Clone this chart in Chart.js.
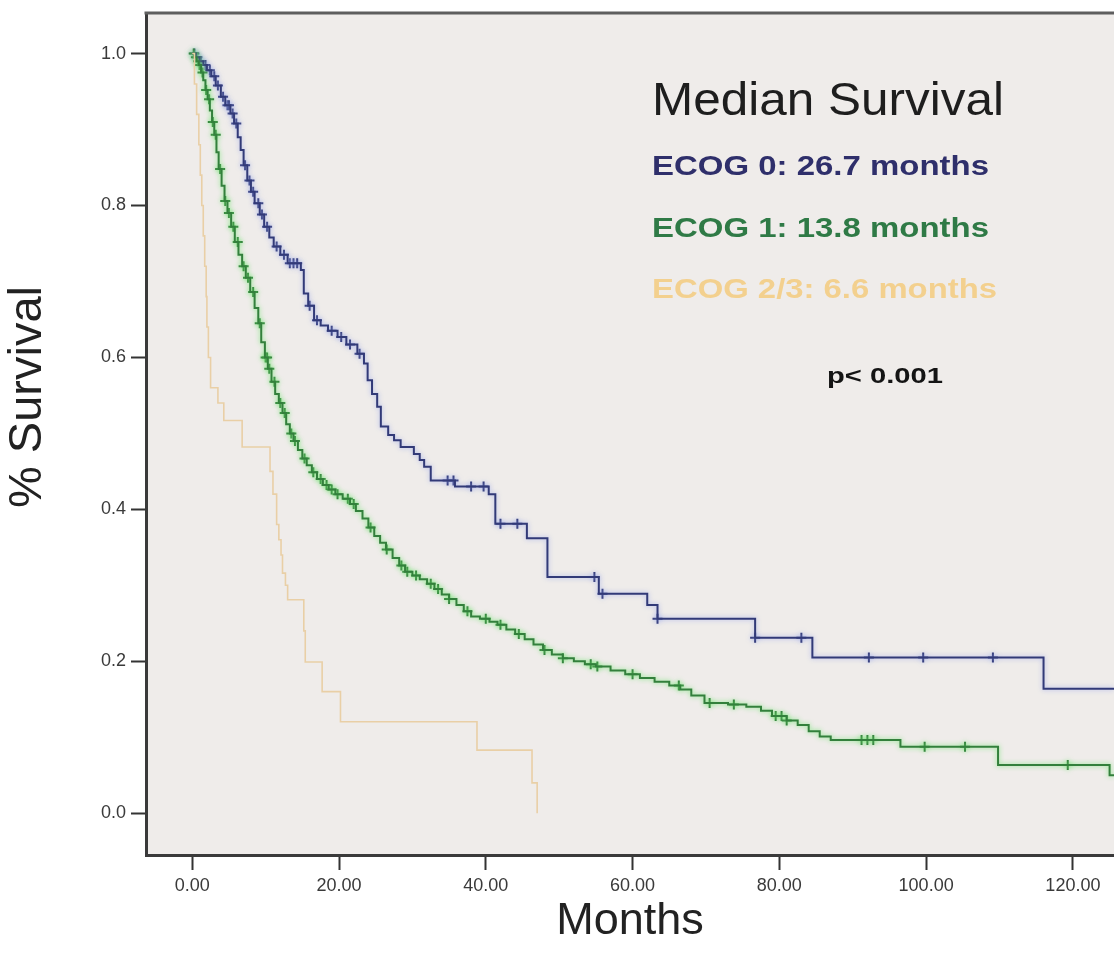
<!DOCTYPE html>
<html>
<head>
<meta charset="utf-8">
<script src="https://cdn.jsdelivr.net/npm/chart.js@4.4.1/dist/chart.umd.min.js"></script>
<style>
  html, body { margin: 0; padding: 0; background: #ffffff; overflow: hidden; }
  #wrap { width: 1114px; height: 957px; position: relative; }
</style>
</head>
<body>
<div id="wrap"><canvas id="c" width="1114" height="957"></canvas></div>
<script>
// ---- Data ----
// Kaplan-Meier step points: [months, survival after the event]
const ecog0Times = [0,0.5,1.0,1.5,2.0,2.6,3.2,3.9,4.5,5.2,5.7,6.2,6.6,7.0,7.5,8.0,8.5,9.2,9.8,10.5,11.1,12.0,13.0,14.8,15.2,15.8,16.6,17.5,18.5,19.8,21.0,22.5,23.4,23.9,24.5,25.2,25.7,26.7,27.5,28.4,30.2,31.0,31.6,32.5,35.8,40.4,41.3,45.6,48.4,55.4,62.0,63.4,76.7,84.5,116.0,125.6];
const ecog0Surv  = [1.0,0.995,0.99,0.985,0.978,0.97,0.958,0.943,0.932,0.921,0.908,0.89,0.873,0.853,0.833,0.818,0.803,0.788,0.772,0.758,0.746,0.735,0.724,0.715,0.684,0.668,0.649,0.642,0.635,0.627,0.617,0.605,0.592,0.57,0.552,0.535,0.509,0.498,0.491,0.482,0.473,0.465,0.456,0.438,0.430,0.42,0.381,0.362,0.311,0.289,0.274,0.256,0.231,0.205,0.164,0.164];

const ecog1Times = [0,0.3,0.6,0.9,1.2,1.5,1.8,2.1,2.4,2.7,3.0,3.3,3.6,4.0,4.4,4.8,5.3,5.8,6.3,6.8,7.3,7.9,8.5,9.0,9.4,9.9,10.3,10.8,11.3,11.8,12.3,12.8,13.3,13.8,14.4,15.0,15.6,16.3,17.0,17.8,18.6,19.5,20.5,21.5,22.3,23.2,24.0,24.8,25.6,26.4,27.3,28.2,29.0,30.0,31.0,32.0,33.0,34.0,35.0,36.0,37.0,38.0,39.2,40.5,41.6,42.8,44.0,45.3,46.5,47.8,49.0,50.5,52.0,53.5,55.0,57.0,59.0,61.0,63.0,65.0,66.5,68.0,69.8,73.0,75.5,77.5,79.0,81.0,82.5,84.0,85.5,87.0,96.5,109.8,125.0,125.6];
const ecog1Surv  = [1.0,0.995,0.99,0.985,0.975,0.965,0.952,0.94,0.925,0.91,0.893,0.87,0.848,0.826,0.806,0.79,0.772,0.752,0.735,0.72,0.705,0.686,0.665,0.645,0.62,0.60,0.585,0.568,0.552,0.54,0.527,0.512,0.5,0.49,0.478,0.467,0.458,0.449,0.44,0.432,0.426,0.42,0.414,0.407,0.398,0.388,0.376,0.365,0.356,0.347,0.336,0.326,0.318,0.313,0.308,0.302,0.295,0.288,0.282,0.274,0.266,0.259,0.256,0.252,0.248,0.242,0.236,0.229,0.222,0.215,0.209,0.204,0.2,0.196,0.193,0.188,0.183,0.178,0.173,0.168,0.163,0.155,0.145,0.143,0.14,0.135,0.128,0.122,0.116,0.108,0.101,0.0965,0.0876,0.0636,0.05,0.05];

const ecog23Times = [0,0.3,0.6,0.9,1.1,1.3,1.5,1.7,1.9,2.0,2.2,2.5,3.5,4.3,6.8,10.6,11.0,11.5,11.8,12.1,12.3,12.7,13.0,15.2,15.4,17.7,20.2,38.8,46.3,47.0];
const ecog23Surv  = [1.0,0.96,0.92,0.88,0.84,0.80,0.76,0.72,0.68,0.64,0.60,0.56,0.54,0.517,0.482,0.45,0.42,0.38,0.36,0.34,0.316,0.30,0.281,0.24,0.199,0.16,0.1205,0.083,0.04,0.0];

// Censoring times (months)
const ecog0Censored = [0.3,0.7,1.2,1.8,2.4,3.0,3.5,4.2,4.8,5.0,5.5,6.0,7.2,7.8,8.3,9.0,9.5,10.2,11.5,12.5,13.3,13.8,14.3,16.0,17.0,19.0,20.3,21.5,22.8,34.8,35.6,38.0,39.7,42.0,44.3,54.8,55.9,63.4,76.7,83.0,92.2,99.6,109.1];
const ecog1Censored = [0.2,0.5,0.8,1.0,1.4,1.9,2.3,2.8,3.2,3.8,4.5,5.0,5.6,6.2,7.0,7.6,8.3,9.2,10.0,10.2,10.5,11.2,12.0,12.6,13.5,14.0,15.3,16.5,17.5,18.3,19.0,19.8,21.2,22.0,24.3,26.5,28.5,29.3,30.5,32.5,33.5,35.0,37.5,40.0,42.0,44.5,48.0,50.5,54.3,55.2,60.0,66.3,70.5,73.8,79.5,80.3,81.0,91.2,92.0,92.8,99.8,105.3,119.3];

const groupLabels = ["ECOG 0", "ECOG 1", "ECOG 2/3"];
const medianTexts = ["ECOG 0: 26.7 months", "ECOG 1: 13.8 months", "ECOG 2/3: 6.6 months"];
const yTickValues = [0.0, 0.2, 0.4, 0.6, 0.8, 1.0];
const xTickValues = [0, 20, 40, 60, 80, 100, 120];

// ---- Helpers ----
function toPoints(t, s) { return t.map((x, i) => ({ x: x, y: s[i] })); }
function kmAt(t, s, time) {
  let v = s[0];
  for (let i = 0; i < t.length; i++) { if (t[i] <= time) v = s[i]; else break; }
  return v;
}
function censorPoints(c, t, s) { return c.map(x => ({ x: x, y: kmAt(t, s, x) })); }

const C_BLUE = '#323a78';
const C_GREEN = '#33803c';
const C_TAN = '#e9cfa6';
const FONT = '"Liberation Sans", Arial, sans-serif';

// ---- Plugins ----
const frame = {
  id: 'frame',
  beforeDraw(chart) {
    const { ctx, chartArea: a } = chart;
    ctx.save();
    ctx.fillStyle = '#efecea';
    ctx.fillRect(a.left, a.top, a.right - a.left, a.bottom - a.top);
    ctx.restore();
  },
  afterDraw(chart) {
    const { ctx, chartArea: a } = chart;
    ctx.save();
    ctx.strokeStyle = '#5e5e5e';
    ctx.lineWidth = 3;
    ctx.beginPath();
    ctx.moveTo(a.left - 1.5, a.top);
    ctx.lineTo(a.right, a.top);
    ctx.stroke();
    ctx.restore();
  }
};

const halo = {
  id: 'halo',
  beforeDatasetDraw(chart, args) {
    const ds = chart.data.datasets[args.index];
    chart.ctx.save();
    if (ds.haloColor) {
      chart.ctx.shadowColor = ds.haloColor;
      chart.ctx.shadowBlur = 5;
    }
  },
  afterDatasetDraw(chart) { chart.ctx.restore(); }
};

function drawFit(ctx, text, x, y, font, color, width) {
  ctx.save();
  ctx.font = font;
  ctx.fillStyle = color;
  ctx.textBaseline = 'alphabetic';
  ctx.textAlign = 'left';
  const w = ctx.measureText(text).width;
  ctx.translate(x, y);
  ctx.scale(width / w, 1);
  ctx.fillText(text, 0, 0);
  ctx.restore();
}

const texts = {
  id: 'texts',
  afterDatasetsDraw(chart) {
    const ctx = chart.ctx;
    drawFit(ctx, 'Median Survival', 652, 115, '46px ' + FONT, '#1e1e1e', 352);
    drawFit(ctx, medianTexts[0], 652, 175, 'bold 28px ' + FONT, '#2f2f6b', 337);
    drawFit(ctx, medianTexts[1], 652, 237, 'bold 28px ' + FONT, '#2f7a46', 337);
    drawFit(ctx, medianTexts[2], 652, 298, 'bold 28px ' + FONT, '#f3d08e', 345);
    drawFit(ctx, 'p< 0.001', 827, 383, 'bold 22px ' + FONT, '#141414', 116);
    // y axis title
    ctx.save();
    ctx.translate(28, 397);
    ctx.rotate(-Math.PI / 2);
    ctx.font = '47px ' + FONT;
    ctx.fillStyle = '#222222';
    ctx.textAlign = 'center';
    ctx.textBaseline = 'middle';
    ctx.fillText('% Survival', 0, 0);
    ctx.restore();
  }
};

// ---- Chart ----
new Chart(document.getElementById('c'), {
  type: 'line',
  data: {
    datasets: [
      { label: groupLabels[2], data: toPoints(ecog23Times, ecog23Surv), stepped: true,
        borderColor: C_TAN, borderWidth: 1.6, pointRadius: 0, fill: false },
      { label: groupLabels[1], data: toPoints(ecog1Times, ecog1Surv), stepped: true,
        borderColor: C_GREEN, borderWidth: 2, pointRadius: 0, fill: false, haloColor: 'rgba(110,230,110,0.9)' },
      { label: groupLabels[0], data: toPoints(ecog0Times, ecog0Surv), stepped: true,
        borderColor: C_BLUE, borderWidth: 2, pointRadius: 0, fill: false, haloColor: 'rgba(150,165,235,0.8)' },
      { label: groupLabels[1] + ' censored', data: censorPoints(ecog1Censored, ecog1Times, ecog1Surv), showLine: false,
        pointStyle: 'cross', pointRadius: 5, pointBorderWidth: 2, borderColor: C_GREEN, backgroundColor: C_GREEN, haloColor: 'rgba(110,230,110,0.8)' },
      { label: groupLabels[0] + ' censored', data: censorPoints(ecog0Censored, ecog0Times, ecog0Surv), showLine: false,
        pointStyle: 'cross', pointRadius: 5, pointBorderWidth: 2, borderColor: C_BLUE, backgroundColor: C_BLUE, haloColor: 'rgba(150,165,235,0.7)' }
    ]
  },
  options: {
    responsive: false,
    animation: false,
    events: [],
    layout: { autoPadding: false, padding: { top: 13, right: 0, bottom: 0, left: 0 } },
    plugins: { legend: { display: false }, tooltip: { enabled: false } },
    scales: {
      x: {
        type: 'linear', min: -6.3, max: 125.6,
        afterFit(s) { s.height = 102; s.paddingLeft = 0; s.paddingRight = 0; },
        afterBuildTicks(s) { s.ticks = xTickValues.map(v => ({ value: v })); },
        ticks: { callback: v => Number(v).toFixed(2), font: { family: FONT, size: 18 }, color: '#3a3a3a', padding: 5, maxRotation: 0 },
        grid: { drawOnChartArea: false, drawTicks: true, tickLength: 15, tickWidth: 2, tickColor: '#333333' },
        border: { display: true, color: '#3a3a3a', width: 3 },
        title: { display: true, text: 'Months', font: { family: FONT, size: 45 }, color: '#222222', padding: { top: 0, bottom: 8 } }
      },
      y: {
        type: 'linear', min: -0.055, max: 1.0534,
        afterFit(s) { s.width = 146; s.paddingTop = 0; s.paddingBottom = 0; },
        afterBuildTicks(s) { s.ticks = yTickValues.map(v => ({ value: v })); },
        ticks: { callback: v => Number(v).toFixed(1), font: { family: FONT, size: 18 }, color: '#3a3a3a', padding: 5 },
        grid: { drawOnChartArea: false, drawTicks: true, tickLength: 15, tickWidth: 2, tickColor: '#333333' },
        border: { display: true, color: '#3a3a3a', width: 3 }
      }
    }
  },
  plugins: [frame, halo, texts]
});
</script>
</body>
</html>
